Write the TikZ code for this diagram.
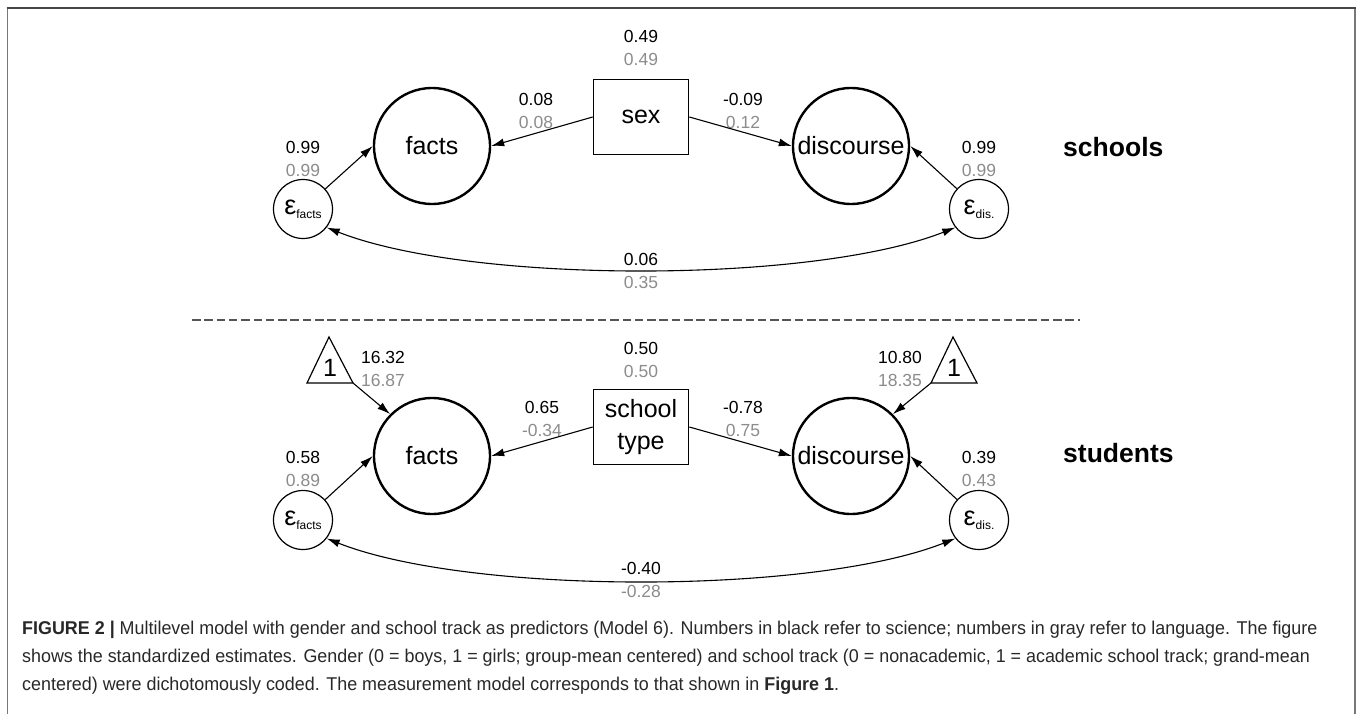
\documentclass[tikz,border=0pt]{standalone}
\usepackage{fontspec}
\setmainfont{Liberation Sans}
\newfontfamily\capfont[FakeStretch=0.968]{Liberation Sans}
\usetikzlibrary{arrows.meta}
\definecolor{numgray}{RGB}{140,140,140}
\definecolor{framegray}{RGB}{120,120,120}
\definecolor{topgray}{RGB}{70,70,70}
\definecolor{dashgray}{RGB}{85,85,85}
\definecolor{captext}{RGB}{40,40,40}
\newcommand{\epsnode}[1]{\fontsize{27}{27}\selectfont ε\raisebox{-4pt}{\fontsize{12}{12}\selectfont #1}}
\begin{document}
\begin{tikzpicture}[x=1pt,y=-1pt,
 latent/.style={circle,draw,line width=2.4pt,minimum size=116pt,inner sep=0pt,font=\fontsize{25}{30}\selectfont},
 obs/.style={rectangle,draw,line width=1.7pt,minimum width=95pt,minimum height=75pt,inner sep=0pt,font=\fontsize{25}{32}\selectfont,align=center},
 err/.style={circle,draw,line width=1.2pt,minimum size=59pt,inner sep=0pt},
 num/.style={font=\fontsize{17.5}{20}\selectfont,inner sep=0pt},
 gnum/.style={num,text=numgray},
 reg/.style={-{Latex[length=13pt,width=8pt]},line width=1.1pt},
 cov/.style={{Latex[length=13pt,width=8pt]}-{Latex[length=13pt,width=8pt]},line width=1.1pt},
 level/.style={font=\fontsize{26.5}{30}\selectfont\bfseries,anchor=west,inner sep=0pt},
 capline/.style={anchor=base west,inner sep=0pt,text=captext,font=\capfont\fontsize{18.5}{28}\selectfont},
 tri/.style={line width=1.2pt,line join=miter},
 one/.style={font=\fontsize{25}{25}\selectfont,inner sep=0pt},
]
\useasboundingbox (0,0) rectangle (1357,714);
% frame
\draw[framegray,line width=1.6pt] (7.5,714) -- (7.5,8.3);
\draw[framegray,line width=1.6pt] (1355,714) -- (1355,8.3);
\draw[topgray,line width=1.8pt] (6.7,8.3) -- (1355.8,8.3);

% ===== schools level =====
\node[latent] (f1) at (432,146) {facts};
\node[latent] (d1) at (851,146) {discourse};
\node[obs] (sex) at (641,117) {sex};
\node[err] (ef1) at (303,209) {\epsnode{facts}};
\node[err] (ed1) at (979,209) {\epsnode{dis.}};
\node[num] (vsexa) at (641,36) {0.49};
\node[gnum] (vsexb) at (641,59) {0.49};
\node[num] (sfa) at (536,99) {0.08};
\node[gnum] (sfb) at (536,122) {0.08};
\node[num] (sda) at (743,99) {-0.09};
\node[gnum] (sdb) at (743,122) {0.12};
\node[num] (efa) at (303,147) {0.99};
\node[gnum] (efb) at (303,170) {0.99};
\node[num] (eda) at (979,147) {0.99};
\node[gnum] (edb) at (979,170) {0.99};
\node[num] (ca1) at (641,259) {0.06};
\node[gnum] (cb1) at (641,282) {0.35};
\node[level] (schools) at (1063,147) {schools};

\draw[reg] (sex.west) -- (f1.east);
\draw[reg] (sex.east) -- (d1.west);
\draw[reg] (ef1) -- (f1.west);
\draw[reg] (ed1) -- (d1.east);
\draw[cov] (ef1.-38) .. controls (470,284) and (812,284) .. (ed1.-142);

% separator
\coordinate (sepl) at (192,320);
\coordinate (sepr) at (1080,320);
\draw[dashgray,line width=1.4pt,dash pattern=on 8.5pt off 3.8pt] (sepl) -- (sepr);

% ===== students level =====
\node[latent] (f2) at (432,456) {facts};
\node[latent] (d2) at (851,456) {discourse};
\node[obs] (st) at (641,427) {school\\type};
\node[err] (ef2) at (303,520) {\epsnode{facts}};
\node[err] (ed2) at (979,520) {\epsnode{dis.}};
\node[num] (vsta) at (641,348) {0.50};
\node[gnum] (vstb) at (641,371) {0.50};
\node[num] (sfa2) at (542,407) {0.65};
\node[gnum] (sfb2) at (542,430) {-0.34};
\node[num] (sda2) at (743,407) {-0.78};
\node[gnum] (sdb2) at (743,430) {0.75};
\node[num] (efa2) at (303,457) {0.58};
\node[gnum] (efb2) at (303,480) {0.89};
\node[num] (eda2) at (979,457) {0.39};
\node[gnum] (edb2) at (979,480) {0.43};
\node[num] (ma) at (383,357) {16.32};
\node[gnum] (mb) at (383,380) {16.87};
\node[num] (na) at (900,357) {10.80};
\node[gnum] (nb) at (900,380) {18.35};
\node[num] (ca2) at (641,568) {-0.40};
\node[gnum] (cb2) at (641,591) {-0.28};
\node[level] (students) at (1063,453) {students};

% triangles
\coordinate (t1a) at (329,337);
\coordinate (t1l) at (307,383);
\coordinate (t1r) at (353,383);
\draw[tri] (t1a) -- (t1l) -- (t1r) -- cycle;
\node[one] (one1) at (330,368) {1};
\coordinate (t2a) at (953,337);
\coordinate (t2l) at (931,383);
\coordinate (t2r) at (977,383);
\draw[tri] (t2a) -- (t2l) -- (t2r) -- cycle;
\node[one] (one2) at (954,368) {1};

\draw[reg] (t1r) -- (f2.north west);
\draw[reg] (t2l) -- (d2.north east);
\draw[reg] (st.west) -- (f2.east);
\draw[reg] (st.east) -- (d2.west);
\draw[reg] (ef2) -- (f2.west);
\draw[reg] (ed2) -- (d2.east);
\draw[cov] (ef2.-38) .. controls (470,595) and (812,595) .. (ed2.-142);

% caption
\node[capline] (cap1) at (22,634) {\textbf{FIGURE 2 |} Multilevel model with gender and school track as predictors (Model 6). Numbers in black refer to science; numbers in gray refer to language. The figure};
\node[capline] (cap2) at (22,662) {shows the standardized estimates. Gender (0 = boys, 1 = girls; group-mean centered) and school track (0 = nonacademic, 1 = academic school track; grand-mean};
\node[capline] (cap3) at (22,690) {centered) were dichotomously coded. The measurement model corresponds to that shown in \textbf{Figure 1}.};
\end{tikzpicture}
\end{document}
